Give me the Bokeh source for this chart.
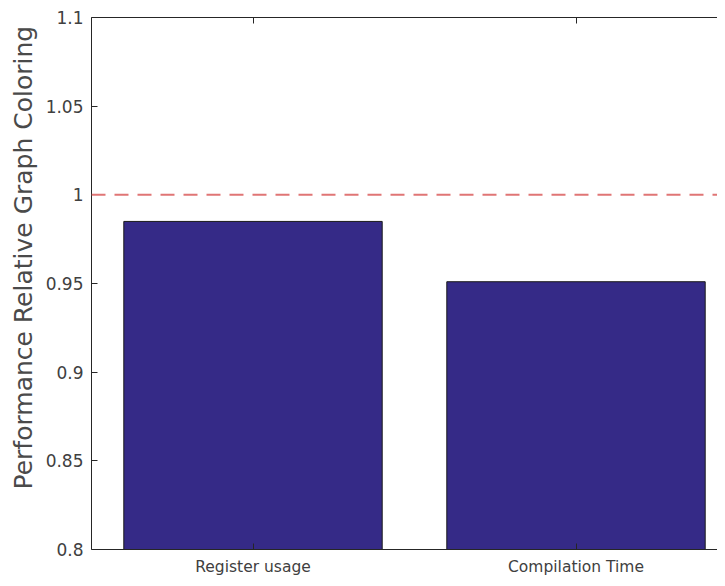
from bokeh.plotting import figure
from bokeh.models import Range1d, FixedTicker, LinearAxis, Span, ColumnDataSource, Title
from bokeh.embed import file_html
from bokeh.resources import INLINE

categories = ["Register usage", "Compilation Time"]
values = [0.985, 0.951]
baseline = 1.0
y_ticks = [0.8, 0.85, 0.9, 0.95, 1.0, 1.05, 1.1]
y_tick_labels = ["0.8", "0.85", "0.9", "0.95", "1", "1.05", "1.1"]
y_title = "Performance Relative Graph Coloring"

xs = list(range(1, len(categories) + 1))
src = ColumnDataSource(dict(x=xs, top=values))

FONT = "DejaVu Sans"
TXT = "#404040"
AX = "#262626"

p = figure(width=717, height=578, output_backend="svg", toolbar_location=None,
           x_range=Range1d(0.5, 0.5 + 626 / 323), y_range=Range1d(0.8, 1.1),
           min_border_left=91, min_border_top=17,
           min_border_bottom=28, min_border_right=0)
p.outline_line_color = None
p.grid.visible = False
p.background_fill_color = "white"

p.vbar(x="x", top="top", bottom=0, width=0.8, source=src,
       fill_color="#352a87", line_color="#1a1a1a", line_width=1)

p.add_layout(Span(location=baseline, dimension="width", line_color="#e07575",
                  line_dash="14 9", line_width=2))

xa = p.xaxis[0]
xa.ticker = FixedTicker(ticks=xs)
xa.major_label_overrides = {x: c for x, c in zip(xs, categories)}
ya = p.yaxis[0]
ya.ticker = FixedTicker(ticks=y_ticks)
ya.major_label_overrides = {t: l for t, l in zip(y_ticks, y_tick_labels)}

for ax in (xa, ya):
    ax.axis_line_color = AX
    ax.axis_line_width = 1
    ax.major_tick_line_color = AX
    ax.major_tick_in = 6
    ax.major_tick_out = 0
    ax.minor_tick_line_color = None
    ax.major_label_text_font = FONT
    ax.major_label_text_color = TXT
xa.major_label_standoff = 8
ya.major_label_standoff = 8
xa.major_label_text_font_size = "15.5px"
ya.major_label_text_font_size = "17px"

top = LinearAxis(ticker=FixedTicker(ticks=xs), major_label_text_color=None,
                 axis_line_color=AX, major_tick_line_color=AX, major_tick_in=6,
                 major_tick_out=0, minor_tick_line_color=None, major_label_standoff=0)
p.add_layout(top, "above")

p.add_layout(Title(text=y_title, align="left", offset=60, standoff=10,
                   text_font=FONT, text_font_size="25px", text_font_style="normal",
                   text_color="#4a4a4a"), "left")

open("out.html", "w").write(file_html(p, INLINE))
